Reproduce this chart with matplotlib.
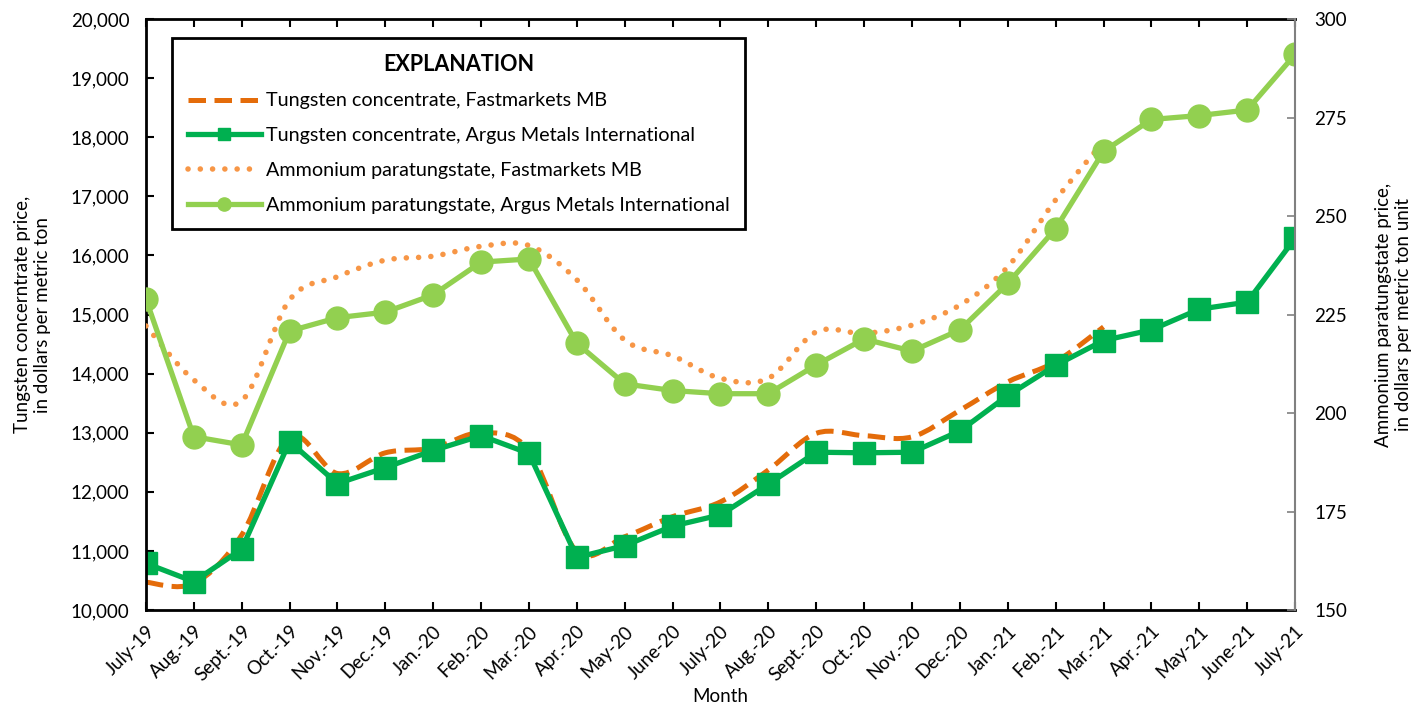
import numpy as np
import matplotlib
matplotlib.use("Agg")
import matplotlib.pyplot as plt
from matplotlib.path import Path
from matplotlib.patches import PathPatch
from matplotlib.lines import Line2D
from matplotlib.ticker import FuncFormatter

plt.rcParams['font.family'] = ['Lato', 'DejaVu Sans']

months = ['July-19', 'Aug.-19', 'Sept.-19', 'Oct.-19', 'Nov.-19', 'Dec.-19',
          'Jan.-20', 'Feb.-20', 'Mar.-20', 'Apr.-20', 'May-20', 'June-20',
          'July-20', 'Aug.-20', 'Sept.-20', 'Oct.-20', 'Nov.-20', 'Dec.-20',
          'Jan.-21', 'Feb.-21', 'Mar.-21', 'Apr.-21', 'May-21', 'June-21', 'July-21']

# tungsten concentrate, dollars per metric ton (left axis)
tungsten_fm = [10470, 10450, 11270, 12930, 12310, 12660, 12740, 13000, 12700,
               10990, 11240, 11580, 11830, 12370, 12990, 12950, 12930, 13380,
               13860, 14200, 14790]
tungsten_argus = [10790, 10480, 11030, 12850, 12140, 12410, 12700, 12950, 12650,
                  10890, 11090, 11420, 11610, 12130, 12670, 12660, 12670, 13030,
                  13630, 14140, 14560, 14740, 15090, 15210, 16290]

# ammonium paratungstate, dollars per metric ton unit (right axis)
apt_fm = [222.1, 208.4, 203.1, 228.7, 234.6, 238.8, 239.8, 242.3, 242.5, 233.8,
          218.5, 214.5, 208.8, 208.8, 220.6, 220.2, 222.3, 227.4, 237.1, 254.1, 268.9]
apt_argus = [228.9, 194.0, 191.9, 220.8, 224.2, 225.6, 230.0, 238.3, 239.1, 217.7,
             207.4, 205.7, 204.9, 204.9, 212.2, 218.8, 215.7, 221.1, 232.9, 246.8,
             266.4, 274.5, 275.5, 276.9, 291.0]

c_dash = '#E46C0A'
c_sq = '#00B050'
c_dot = '#F79646'
c_circ = '#92D050'


def smooth_path(x, y):
    # excel style smoothed line as bezier segments
    pts = np.column_stack([x, y]).astype(float)
    n = len(pts)
    verts = [pts[0]]
    codes = [Path.MOVETO]
    for i in range(n - 1):
        p0 = pts[i - 1] if i > 0 else pts[i]
        p1 = pts[i]
        p2 = pts[i + 1]
        p3 = pts[i + 2] if i + 2 < n else pts[i + 1]
        verts += [p1 + (p2 - p0) / 6, p2 - (p3 - p1) / 6, p2]
        codes += [Path.CURVE4] * 3
    return Path(verts, codes)


x = np.arange(len(months))

fig = plt.figure(figsize=(14.28, 7.09), dpi=100)
ax = fig.add_axes([0.1022, 0.1396, 0.8047, 0.8336])
ax2 = ax.twinx()

dash_style = (0, (3.5, 1.7))
dot_style = (0, (0.01, 2.2))

p1 = PathPatch(smooth_path(x[:len(tungsten_fm)], tungsten_fm), fill=False,
               edgecolor=c_dash, lw=3.6, linestyle=dash_style)
ax.add_patch(p1)
ax.plot(x, tungsten_argus, color=c_sq, lw=3.8, marker='s', markersize=15.5,
        markeredgecolor=c_sq)

p2 = PathPatch(smooth_path(x[:len(apt_fm)], apt_fm), fill=False,
               edgecolor=c_dot, lw=4, linestyle=dot_style, capstyle='round')
ax2.add_patch(p2)
ax2.plot(x, apt_argus, color=c_circ, lw=3.8, marker='o', markersize=16.5,
         markeredgecolor=c_circ)

ax.set_xlim(0, len(months) - 1)
ax.set_ylim(10000, 20000)
ax2.set_ylim(150, 300)
ax.set_yticks(np.arange(10000, 20001, 1000))
ax2.set_yticks(np.arange(150, 301, 25))
ax.yaxis.set_major_formatter(FuncFormatter(lambda v, p: f'{int(v):,}'))

ax.set_xticks(x)
ax.set_xticklabels(months, rotation=45, ha='right', rotation_mode='anchor')
ax.tick_params(axis='x', direction='in', length=6, width=1.5, top=True,
               labelsize=13.5, pad=9)
ax.tick_params(axis='y', direction='in', length=6, width=1.5, labelsize=13.5, pad=12)
ax2.tick_params(axis='y', direction='in', length=6, width=1.2, color='#808080',
                labelsize=13.5, pad=14)

for s in ['left', 'bottom', 'top']:
    ax.spines[s].set_linewidth(2)
    ax.spines[s].set_color('black')
ax.spines['right'].set_visible(False)
for s in ['left', 'bottom', 'top']:
    ax2.spines[s].set_visible(False)
ax2.spines['right'].set_color('#808080')
ax2.spines['right'].set_linewidth(1.5)

ax.set_xlabel('Month', fontsize=13.5, labelpad=3)
ax.set_ylabel('Tungsten concerntrate price,\nin dollars per metric ton', fontsize=13.5,
              labelpad=14)
ax2.set_ylabel('Ammonium paratungstate price,\nin dollars per metric ton unit',
               fontsize=13.5, labelpad=20)

handles = [
    Line2D([], [], color=c_dash, lw=3.6, linestyle=dash_style),
    Line2D([], [], color=c_sq, lw=3.8, marker='s', markersize=9),
    Line2D([], [], color=c_dot, lw=4, linestyle=dot_style, dash_capstyle='round'),
    Line2D([], [], color=c_circ, lw=3.8, marker='o', markersize=9.5),
]
labels = ['Tungsten concentrate, Fastmarkets MB',
          'Tungsten concentrate, Argus Metals International',
          'Ammonium paratungstate, Fastmarkets MB',
          'Ammonium paratungstate, Argus Metals International']
leg = ax2.legend(handles, labels, title='EXPLANATION', loc='upper left',
                 bbox_to_anchor=(0.0226, 0.968), borderaxespad=0, fontsize=14.2,
                 title_fontproperties={'weight': 'bold', 'size': 15.5},
                 handlelength=3.7, handletextpad=0.25, labelspacing=0.9,
                 borderpad=0.8, fancybox=False, framealpha=1, edgecolor='black')
leg.get_frame().set_linewidth(2)

fig.savefig('out.png', dpi=100)
